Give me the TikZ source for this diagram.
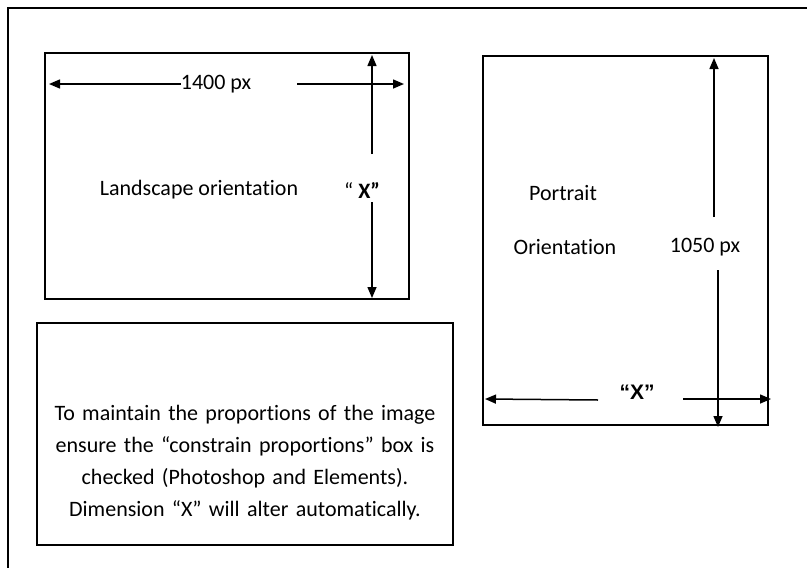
\documentclass[tikz,border=0pt]{standalone}
\usepackage{fontspec}
\setmainfont{Carlito}[Ligatures={NoCommon}]
\newfontfamily\arialfont{Liberation Sans}
\usetikzlibrary{arrows.meta}
\tikzset{
  frame/.style={draw=black,line width=2pt},
  dimline/.style={line width=1.5pt,-{Triangle[length=11pt,width=9pt]}},
  lbl/.style={font=\fontsize{22}{26}\selectfont,inner sep=0pt}
}
\begin{document}
\begin{tikzpicture}[x=1pt,y=-1pt]
\useasboundingbox (0,0) rectangle (807,568);
% page edge, cut off at right and bottom
\draw[line width=2.5pt] (8,568) -- (8,8) -- (807,8);
% landscape box
\draw[frame] (45,53) rectangle (409,299);
\node[lbl] (landtxt) at (199,190) {Landscape orientation};
\node[lbl] (wland) at (216,84) {1400 px};
\node[lbl] (xland) at (362,190) {“ \textbf{X”}};
\coordinate (wlandL) at (49,84);
\coordinate (wlandA) at (297,84);
\coordinate (wlandR) at (404,84);
\coordinate (hlandT) at (372,55);
\coordinate (hlandA) at (372,154);
\coordinate (hlandB) at (372,202);
\coordinate (hlandD) at (372,298);
\draw[dimline] (wland.west) -- (wlandL);
\draw[dimline] (wlandA) -- (wlandR);
\draw[dimline] (hlandA) -- (hlandT);
\draw[dimline] (hlandB) -- (hlandD);
% portrait box
\draw[frame] (483,56) rectangle (768,425);
\node[lbl] (porttxt) at (563,193) {Portrait};
\node[lbl] (orienttxt) at (565,247) {Orientation};
\node[lbl] (hport) at (705,247) {1050 px};
\node[inner sep=0pt,font=\arialfont\bfseries\fontsize{21}{25}\selectfont] (xport) at (637,392) {“X”};
\coordinate (hportT) at (714,58);
\coordinate (hportA) at (714,217);
\coordinate (hportB) at (718,270);
\coordinate (hportD) at (718,427);
\coordinate (wportL) at (485,399);
\coordinate (wportA) at (598,400);
\coordinate (wportB) at (683,399);
\coordinate (wportR) at (771,399);
\draw[dimline] (hportA) -- (hportT);
\draw[dimline] (hportB) -- (hportD);
\draw[dimline] (wportA) -- (wportL);
\draw[dimline] (wportB) -- (wportR);
% note box
\draw[frame] (37,323) rectangle (453,545);
\node[lbl,text width=410pt,align=center,font=\fontsize{22}{32}\selectfont] (note) at (245,463)
  {To maintain the proportions of the image\\
   ensure the “constrain proportions” box is\\
   checked (Photoshop and Elements).\\
   Dimension “X” will alter automatically.};
\end{tikzpicture}
\end{document}
